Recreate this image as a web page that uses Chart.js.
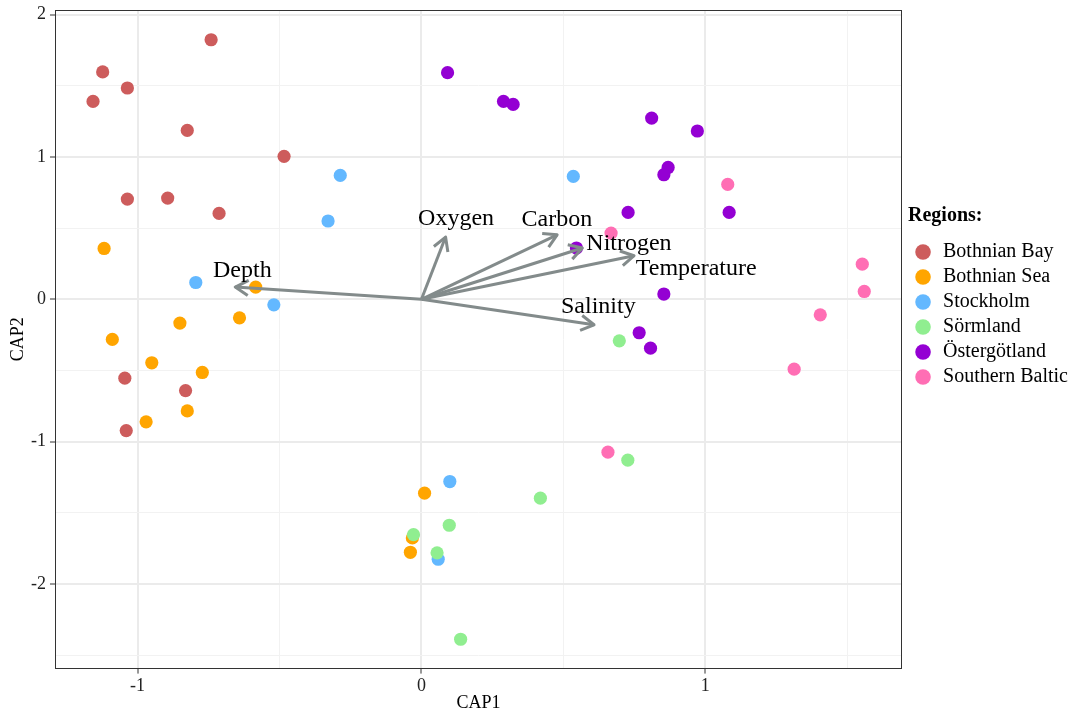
<!DOCTYPE html>
<html>
<head>
<meta charset="utf-8">
<script src="https://cdn.jsdelivr.net/npm/chart.js@4"></script>
<style>
  html, body { margin: 0; padding: 0; background: #fff; }
</style>
</head>
<body>
<canvas id="myChart" width="1078" height="712"></canvas>
<script>
// regions and colours
const regions = ['Bothnian Bay', 'Bothnian Sea', 'Stockholm', 'Sörmland', 'Östergötland', 'Southern Baltic'];
const regionColors = ['#CD5C5C', '#FFA500', '#63B8FF', '#90EE90', '#9400D3', '#FF6EB4'];

// site scores (CAP1, CAP2) per region
const bayX = [-0.741, -1.123, -1.036, -1.157, -0.825, -0.484, -1.036, -0.894, -0.713, -1.045, -0.831, -1.040];
const bayY = [1.823, 1.597, 1.484, 1.390, 1.186, 1.004, 0.704, 0.711, 0.603, -0.554, -0.641, -0.922];
const seaX = [-1.118, -0.584, -0.851, -0.641, -1.089, -0.950, -0.772, -0.825, -0.970, 0.011, -0.032, -0.039];
const seaY = [0.357, 0.086, -0.167, -0.130, -0.282, -0.446, -0.514, -0.784, -0.861, -1.362, -1.676, -1.777];
const sthlmX = [-0.286, -0.329, -0.795, -0.520, 0.535, 0.100, 0.059];
const sthlmY = [0.870, 0.550, 0.118, -0.039, 0.863, -1.280, -1.826];
const sormX = [0.697, 0.727, 0.419, 0.098, -0.028, 0.055, 0.138];
const sormY = [-0.292, -1.130, -1.397, -1.587, -1.653, -1.781, -2.388];
const ostX = [0.092, 0.289, 0.323, 0.811, 0.972, 0.869, 0.854, 0.728, 1.084, 0.546, 0.854, 0.767, 0.807];
const ostY = [1.592, 1.390, 1.369, 1.273, 1.182, 0.926, 0.875, 0.610, 0.610, 0.360, 0.037, -0.235, -0.343];
const balticX = [1.079, 0.668, 1.553, 1.560, 1.405, 1.313, 0.657];
const balticY = [0.807, 0.465, 0.247, 0.055, -0.109, -0.491, -1.074];

// environmental vectors
const envVars = ['Depth', 'Oxygen', 'Carbon', 'Nitrogen', 'Temperature', 'Salinity'];
const arrowX = [-0.656, 0.085, 0.478, 0.567, 0.749, 0.608];
const arrowY = [0.086, 0.437, 0.453, 0.360, 0.306, -0.179];
const labelX = [-0.631, 0.122, 0.477, 0.731, 0.968, 0.623];
const labelY = [0.198, 0.568, 0.561, 0.388, 0.216, -0.053];

// axes
const xTicks = [-1, -0.5, 0, 0.5, 1, 1.5];
const yTicks = [-2.5, -2, -1.5, -1, -0.5, 0, 0.5, 1, 1.5, 2];
const xMin = -1.291, xMax = 1.693;
const yMin = -2.594, yMax = 2.032;

const serif = "'Liberation Serif', 'Times New Roman', serif";
Chart.defaults.font.family = serif;
Chart.defaults.color = '#000';

const xs = [bayX, seaX, sthlmX, sormX, ostX, balticX];
const ys = [bayY, seaY, sthlmY, sormY, ostY, balticY];

const datasets = regions.map((name, i) => ({
  label: name,
  data: xs[i].map((v, j) => ({x: v, y: ys[i][j]})),
  backgroundColor: regionColors[i],
  borderWidth: 0,
  pointRadius: 6.6,
  pointHoverRadius: 6.6,
  order: regions.length - i   // later regions drawn on top, like ggplot
}));

const arrowPlugin = {
  id: 'arrows',
  afterDatasetsDraw(chart) {
    const {ctx, scales: {x, y}} = chart;
    const x0 = x.getPixelForValue(0);
    const y0 = y.getPixelForValue(0);
    ctx.save();
    ctx.strokeStyle = '#838B8B';
    ctx.lineWidth = 3;
    ctx.lineJoin = 'round';
    for (let i = 0; i < envVars.length; i++) {
      const tx = x.getPixelForValue(arrowX[i]);
      const ty = y.getPixelForValue(arrowY[i]);
      const a = Math.atan2(ty - y0, tx - x0);
      const len = 15;
      ctx.beginPath();
      ctx.moveTo(x0, y0);
      ctx.lineTo(tx, ty);
      ctx.stroke();
      ctx.beginPath();
      ctx.moveTo(tx - len * Math.cos(a - Math.PI / 6), ty - len * Math.sin(a - Math.PI / 6));
      ctx.lineTo(tx, ty);
      ctx.lineTo(tx - len * Math.cos(a + Math.PI / 6), ty - len * Math.sin(a + Math.PI / 6));
      ctx.stroke();
    }
    ctx.fillStyle = '#000';
    ctx.font = '24px ' + serif;
    ctx.textAlign = 'center';
    ctx.textBaseline = 'middle';
    for (let i = 0; i < envVars.length; i++) {
      ctx.fillText(envVars[i], x.getPixelForValue(labelX[i]), y.getPixelForValue(labelY[i]));
    }
    ctx.restore();
  },
  afterDraw(chart) {
    // panel border
    const {ctx, chartArea: c} = chart;
    ctx.save();
    ctx.strokeStyle = '#333';
    ctx.lineWidth = 1;
    ctx.strokeRect(Math.round(c.left) + 0.5, Math.round(c.top) + 0.5,
      Math.round(c.right - c.left) - 1, Math.round(c.bottom - c.top) - 1);
    ctx.restore();
  }
};

const isMajor = v => Number.isInteger(v);

const config = {
  type: 'scatter',
  data: { datasets: datasets },
  options: {
    responsive: false,
    animation: false,
    layout: { padding: { left: 9, top: 10, right: 0, bottom: 0 } },
    plugins: {
      tooltip: { enabled: false },
      legend: {
        position: 'right',
        align: 'start',
        title: {
          display: true,
          text: 'Regions:',
          position: 'start',
          font: { size: 20, weight: 'bold', lineHeight: 1 },
          padding: { top: 196, bottom: 11 }
        },
        labels: {
          usePointStyle: true,
          pointStyle: 'circle',
          boxWidth: 22,
          boxHeight: 11,
          padding: 5,
          font: { size: 20, lineHeight: 1 },
          color: '#000',
          sort: (a, b) => a.datasetIndex - b.datasetIndex
        }
      }
    },
    scales: {
      x: {
        type: 'linear',
        min: xMin,
        max: xMax,
        afterBuildTicks: s => { s.ticks = xTicks.map(v => ({value: v})); },
        border: { display: false },
        grid: {
          color: c => isMajor(c.tick.value) ? '#EBEBEB' : '#F2F2F2',
          lineWidth: c => isMajor(c.tick.value) ? 2 : 1,
          tickColor: c => isMajor(c.tick.value) ? '#333' : 'rgba(0,0,0,0)',
          tickLength: 5,
          tickWidth: 1
        },
        ticks: {
          padding: 3.7,
          font: { size: 18, lineHeight: 1 },
          color: '#222',
          maxRotation: 0,
          callback: v => isMajor(v) ? String(v) : ''
        },
        title: {
          display: true,
          text: 'CAP1',
          font: { size: 18, lineHeight: 0.5 },
          padding: { top: 0, bottom: 4 }
        }
      },
      y: {
        type: 'linear',
        min: yMin,
        max: yMax,
        afterBuildTicks: s => { s.ticks = yTicks.map(v => ({value: v})); },
        border: { display: false },
        grid: {
          color: c => isMajor(c.tick.value) ? '#EBEBEB' : '#F2F2F2',
          lineWidth: c => isMajor(c.tick.value) ? 2 : 1,
          tickColor: c => isMajor(c.tick.value) ? '#333' : 'rgba(0,0,0,0)',
          tickLength: 5,
          tickWidth: 1
        },
        ticks: {
          padding: 4,
          font: { size: 18, lineHeight: 0.6 },
          color: '#222',
          callback: v => isMajor(v) ? String(v) : ''
        },
        title: {
          display: true,
          text: 'CAP2',
          font: { size: 18, lineHeight: 1 },
          padding: { top: 0, bottom: 0 }
        }
      },
      gap: {
        type: 'linear',
        position: 'right',
        display: true,
        grid: { display: false },
        border: { display: false },
        ticks: { display: false },
        afterFit: s => { s.width = 6; }
      }
    }
  },
  plugins: [arrowPlugin]
};

const myChart = new Chart(document.getElementById('myChart'), config);
</script>
</body>
</html>
